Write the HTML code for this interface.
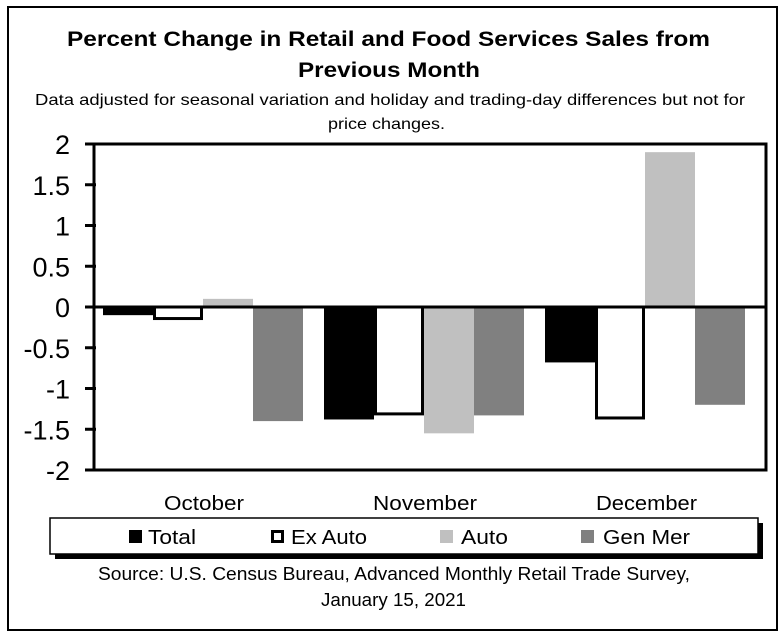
<!DOCTYPE html>
<html><head><meta charset="utf-8"><style>
html,body{margin:0;padding:0;background:#fff;}
body{width:784px;height:637px;position:relative;overflow:hidden;font-family:"Liberation Sans",Arial,sans-serif;}
</style></head><body>
<svg id="chart" width="784" height="637" xmlns="http://www.w3.org/2000/svg">
<rect x="8" y="7" width="769" height="623" fill="#fff" stroke="#000" stroke-width="2"/>
<text x="67" y="46" font-size="21" font-weight="bold" textLength="643" lengthAdjust="spacingAndGlyphs">Percent Change in Retail and Food Services Sales from</text>
<text x="298" y="77" font-size="21" font-weight="bold" textLength="182" lengthAdjust="spacingAndGlyphs">Previous Month</text>
<text x="35" y="105" font-size="16" textLength="710" lengthAdjust="spacingAndGlyphs">Data adjusted for seasonal variation and holiday and trading-day differences but not for</text>
<text x="328" y="129" font-size="16" textLength="117" lengthAdjust="spacingAndGlyphs">price changes.</text>
<g id="plot"></g>
<rect x="55" y="523" width="708" height="36" fill="#000"/>
<rect x="50" y="518" width="708" height="36" fill="#fff" stroke="#000" stroke-width="1.5"/>
<g id="legend"></g>
<text x="98" y="580" font-size="18" textLength="592" lengthAdjust="spacingAndGlyphs">Source: U.S. Census Bureau, Advanced Monthly Retail Trade Survey,</text>
<text x="321" y="606" font-size="18" textLength="145" lengthAdjust="spacingAndGlyphs">January 15, 2021</text>
</svg>
<script>
const categories=["October","November","December"];
const seriesNames=["Total","Ex Auto","Auto","Gen Mer"];
const totalVals=[-0.1,-1.38,-0.68];
const exAutoVals=[-0.16,-1.33,-1.38];
const autoVals=[0.1,-1.55,1.9];
const genMerVals=[-1.4,-1.33,-1.2];
const yTicks=[2,1.5,1,0.5,0,-0.5,-1,-1.5,-2];
const series=[totalVals,exAutoVals,autoVals,genMerVals];
const fills=["#000","#fff","#c0c0c0","#808080"];
const NS="http://www.w3.org/2000/svg";
const L=94,R=766,T=144,B=470,yMin=-2,yMax=2;
const y=v=>B-(v-yMin)/(yMax-yMin)*(B-T);
const gw=221;
const bw=50;
const x=(ci,si)=>L+ci*gw+9+si*bw;
const plot=document.getElementById('plot');
function mk(tag,attrs,parent){const e=document.createElementNS(NS,tag);for(const k in attrs)e.setAttribute(k,attrs[k]);(parent||plot).appendChild(e);return e;}
let f=mk('rect',{x:L,y:T,width:R-L,height:B-T,fill:'#fff',stroke:'none'});


yTicks.forEach(t=>{
  const tl=mk('line',{x1:L-9,x2:L+2,y1:y(t),y2:y(t),stroke:'#000','stroke-width':3});
  
  
  const tx=mk('text',{x:L-24,y:y(t)+10,'text-anchor':'end','font-size':27});
  tx.textContent=t;
  
  
});
series.forEach((vals,si)=>{
  vals.forEach((v,ci)=>{
    const y0=y(0),y1=y(v);
    const top=Math.min(y0,y1),h=Math.abs(y1-y0);
    const attrs={x:x(ci,si),y:top,width:bw,height:h,fill:fills[si]};
    if(si===1){attrs.x=x(ci,si)+1.5;attrs.width=bw-3;attrs.y=top+(v<0?0:1.5);attrs.height=h-1.5;attrs.stroke='#000';attrs['stroke-width']=3;}
    const b=mk('rect',attrs);
    
    
  });
});
let ax=mk('line',{x1:L-9,x2:R,y1:y(0),y2:y(0),stroke:'#000','stroke-width':3});


let fr=mk('rect',{x:L,y:T,width:R-L,height:B-T,fill:'none',stroke:'#000','stroke-width':3});


const catX=[164,373,596];
const catW=[80,104,101];
categories.forEach((c,ci)=>{
  const t=mk('text',{x:catX[ci],y:510,'font-size':20,textLength:catW[ci],lengthAdjust:'spacingAndGlyphs'});
  t.textContent=c;
  
  
});
const lg=document.getElementById('legend');
const lx=[129,271,440,581];
const ltx=[148,291,461,603];
const ltw=[48,76,47,87];
seriesNames.forEach((n,i)=>{
  const s=mk('rect',{x:lx[i]+(i===1?1.5:0),y:530+(i===1?1.5:0),width:i===1?10:13,height:i===1?10:13,fill:fills[i],stroke:i===1?'#000':'none','stroke-width':3},lg);
  
  
  const t=mk('text',{x:ltx[i],y:544,'font-size':20,textLength:ltw[i],lengthAdjust:'spacingAndGlyphs'},lg);
  t.textContent=n;
  
  
});
</script>
</body></html>
